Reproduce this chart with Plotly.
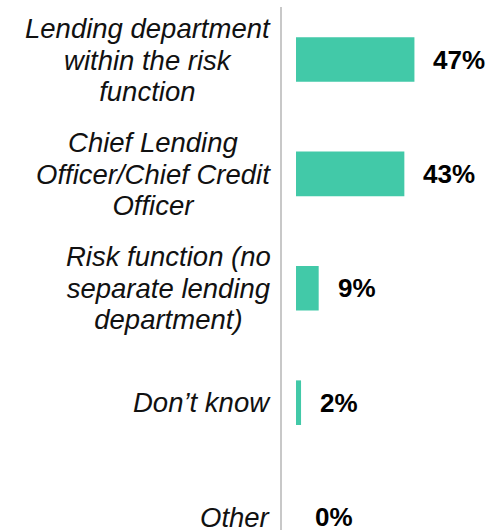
import plotly.graph_objects as go

categories = [
    "Lending department<br>within the risk<br>function",
    "Chief Lending<br>Officer/Chief Credit<br>Officer",
    "Risk function (no<br>separate lending<br>department)",
    "Don’t know",
    "Other",
]
values = [47, 43, 9, 2, 0]
value_labels = ["47%", "43%", "9%", "2%", "0%"]

BAR_COLOR = "#42C9A8"
FONT = "Arial, Liberation Sans, sans-serif"

fig = go.Figure()
fig.add_trace(go.Bar(
    x=values,
    y=categories,
    orientation="h",
    marker=dict(color=BAR_COLOR, line=dict(width=0)),
    width=0.39,
    hoverinfo="skip",
))

annotations = []
for cat, v, lab in zip(categories, values, value_labels):
    lines = cat.split("<br>")
    styled = "<br>".join(f"<span style='font-size:27.5px'>{ln}</span>" for ln in lines)
    annotations.append(dict(
        x=0, xref="paper", y=cat, yref="y",
        text=f"<i>{styled}</i>",
        xanchor="right", yanchor="middle", align="center",
        xshift=-9, showarrow=False,
        font=dict(family=FONT, size=24.4, color="#111111"),
    ))
    annotations.append(dict(
        x=v, xref="x", y=cat, yref="y",
        text=f"<b>{lab}</b>",
        xanchor="left", yanchor="middle", align="left",
        xshift=17, showarrow=False,
        font=dict(family=FONT, size=26, color="#000000"),
    ))

fig.update_layout(
    width=488, height=530,
    margin=dict(l=282, r=0, t=7, b=0),
    paper_bgcolor="white", plot_bgcolor="white",
    showlegend=False,
    hovermode=False,
    annotations=annotations,
    xaxis=dict(range=[-5.56, 76.2], visible=False, showgrid=False, zeroline=False),
    yaxis=dict(
        type="category", categoryorder="array", categoryarray=categories,
        range=[4.113, -0.459],
        showticklabels=False, showgrid=False, zeroline=False, ticks="",
        showline=True, linecolor="#c8c8c8", linewidth=2,
    ),
)

fig.write_html(
    "out.html",
    config={"displayModeBar": False, "staticPlot": True},
    post_script="document.body.style.margin='0';document.body.style.overflow='hidden';",
)
